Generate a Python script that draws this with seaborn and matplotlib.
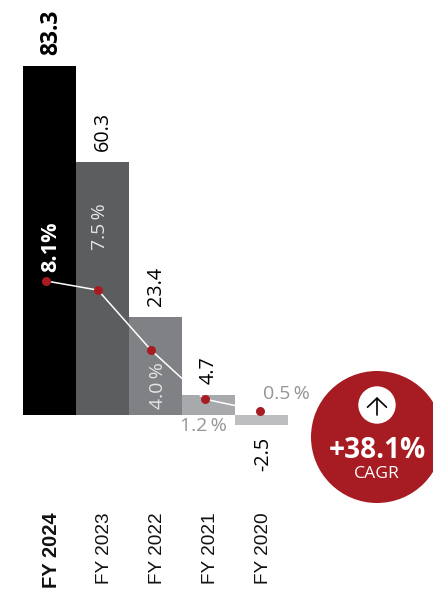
import matplotlib
matplotlib.use("Agg")
import matplotlib.pyplot as plt
from matplotlib.patches import Circle
from matplotlib.transforms import IdentityTransform
import seaborn as sns

years = ["FY 2024", "FY 2023", "FY 2022", "FY 2021", "FY 2020"]
slots = [0, 1, 2, 3, 4]
revenue = [83.3, 60.3, 23.4, 4.7, -2.5]
bar_colors = ["#000000", "#5c5d5f", "#808185", "#a7a9ac", "#bcbec0"]
margin_labels = ["8.1%", "7.5\u2009%", "4.0\u2009%", "1.2\u2009%", "0.5\u2009%"]
# where the margin dots sit, read in bar units
dot_x = [-0.07, -0.085, -0.085, -0.075, -0.03]
dot_y = [32.0, 29.8, 15.5, 3.8, 1.0]

W, H = 433, 592
BASE = 415.0
PX_PER_UNIT = 4.19
FIRST_CENTER = 49.5
BAR_W = 53.0
RED = "#a61c22"


def px_x(px):
    return (px - FIRST_CENTER) / BAR_W


def px_y(py):
    return (BASE - py) / PX_PER_UNIT


sns.set_theme(style="white")
plt.rcParams["font.family"] = ["Open Sans", "DejaVu Sans"]

fig = plt.figure(figsize=(W / 100, H / 100), dpi=100)
ax = fig.add_axes([0, 0, 1, 1])

dot_pos = [s + d for s, d in zip(slots, dot_x)]
sns.barplot(x=slots, y=revenue, hue=years, hue_order=years, palette=bar_colors,
            width=1, native_scale=True, saturation=1, legend=False, linewidth=0, ax=ax)
sns.lineplot(x=dot_pos, y=dot_y, sort=False, estimator=None, color="white", linewidth=1.1, ax=ax)
sns.scatterplot(x=dot_pos, y=dot_y, color=RED, s=42, linewidth=0, zorder=5, ax=ax)

ax.set_xlim(px_x(0), px_x(W))
ax.set_ylim(px_y(H), px_y(0))
ax.axis("off")

# values above / below the bars
for i, cont in enumerate(ax.containers):
    labels = ax.bar_label(cont, labels=[f"{revenue[i]}"], rotation=90, padding=8,
                          fontsize=16.5 if i == 0 else 14.2, color="black",
                          fontweight="bold" if i == 0 else "normal")
    dx, dy = labels[0].xyann
    labels[0].xyann = (dx + (1.2 if i in (0, 4) else 0.3), dy)

# margin labels
ax.text(px_x(51), px_y(272), margin_labels[0], rotation=90, ha="center", va="bottom",
        color="white", fontsize=15.6, fontweight="bold")
ax.text(px_x(100), px_y(250), margin_labels[1], rotation=90, ha="center", va="bottom",
        color="#e4e4e4", fontsize=14)
ax.text(px_x(158), px_y(409), margin_labels[2], rotation=90, ha="center", va="bottom",
        color="#e4e4e4", fontsize=14)
ax.text(px_x(203), px_y(426), margin_labels[3], ha="center", va="center",
        color="#939598", fontsize=14)
ax.text(px_x(286), px_y(394), margin_labels[4], ha="center", va="center",
        color="#939598", fontsize=14)

# category labels hang from one line
for i, year in enumerate(years):
    ax.text(slots[i] + 0.03, px_y(512), year, rotation=90, ha="center", va="top",
            family="Liberation Sans", fontsize=14.5 if i == 0 else 13.7, color="#111111",
            fontweight="bold" if i == 0 else "normal")

# CAGR badge
tr = IdentityTransform()
ax.add_patch(Circle((377, H - 437), 66, color=RED, lw=0, transform=tr, clip_on=False, zorder=8))
ax.add_patch(Circle((377, H - 405), 18.7, color="white", lw=0, transform=tr, clip_on=False, zorder=9))
ax.annotate("", xy=(377, H - 397), xytext=(377, H - 415),
            xycoords="figure pixels", textcoords="figure pixels",
            arrowprops=dict(arrowstyle="->,head_length=0.65,head_width=0.68", mutation_scale=10,
                            color="black", lw=1.2, shrinkA=0, shrinkB=0), zorder=10)
ax.text(px_x(377), px_y(450), "+38.1%", ha="center", va="center", color="white",
        fontsize=20.2, fontweight="bold", zorder=10)
ax.text(px_x(377), px_y(473.5), "CAGR", ha="center", va="center", color="white",
        fontsize=12.6, zorder=10)

fig.savefig("out.png", dpi=100)
